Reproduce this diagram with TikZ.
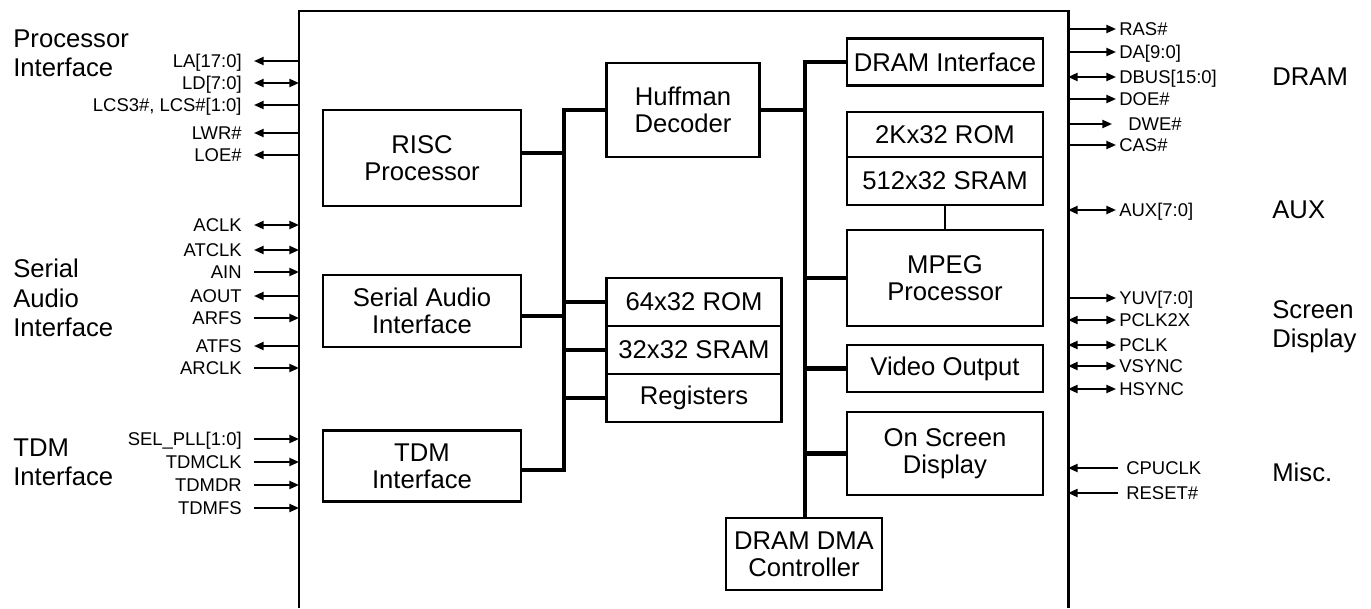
\documentclass[tikz,border=0pt]{standalone}
\usepackage{fontspec}
\setmainfont{Liberation Sans}
\usetikzlibrary{arrows.meta}
\begin{document}
\begin{tikzpicture}
	[x=0.02cm,y=-0.02cm,
	 blk/.style={draw,line width=1.6pt,align=center,inner sep=0pt,font=\fontsize{14.6}{15.3}\selectfont},
	 grp/.style={anchor=west,align=left,inner sep=0pt,font=\fontsize{14.6}{16.7}\selectfont},
	 pinl/.style={anchor=east,inner xsep=0.24cm,inner ysep=0pt,text height=7.5pt,text depth=0pt,font=\fontsize{10.5}{12}\selectfont},
	 pinr/.style={pinl,anchor=west,inner xsep=0.06cm},
	 sig/.style={line width=1.1pt},
	 bus/.style={line width=2.8pt},
	 >={Triangle[length=5.5pt,width=4.6pt]}]
    \useasboundingbox (0,0) rectangle (1371,608);
    \coordinate (cl) at (299,0);
    \coordinate (cr) at (1068,0);
    \coordinate (b1) at (564,0);
    \coordinate (b2) at (805,0);
    % chip outline
    \draw[line width=1.7pt] (299,608) -- (299,11) -- (1068,11) -- (1068,608);
    % blocks
    \node[blk,minimum width=3.96cm,minimum height=1.92cm] (risc) at (422,158) {RISC\\Processor};
    \node[blk,minimum width=3.96cm,minimum height=1.44cm] (sai) at (422,311) {Serial Audio\\Interface};
    \node[blk,minimum width=3.96cm,minimum height=1.42cm] (tdm) at (422,466) {TDM\\Interface};
    \node[blk,minimum width=3.06cm,minimum height=1.88cm] (huff) at (683,110) {Huffman\\Decoder};
    \node[blk,minimum width=3.5cm,minimum height=0.96cm] (rom64) at (694,302) {64x32 ROM};
    \node[blk,minimum width=3.5cm,minimum height=0.96cm] (sram32) at (694,350) {32x32 SRAM};
    \node[blk,minimum width=3.5cm,minimum height=0.96cm] (regs) at (694,398) {Registers};
    \node[blk,minimum width=3.92cm,minimum height=0.94cm] (dramif) at (945,62) {DRAM Interface};
    \node[blk,minimum width=3.92cm,minimum height=0.9cm] (rom2k) at (945,134.5) {2Kx32 ROM};
    \node[blk,minimum width=3.92cm,minimum height=0.96cm] (sram512) at (945,181) {512x32 SRAM};
    \node[blk,minimum width=3.92cm,minimum height=1.92cm] (mpeg) at (945,278) {MPEG\\Processor};
    \node[blk,minimum width=3.92cm,minimum height=0.94cm] (video) at (945,368.5) {Video Output};
    \node[blk,minimum width=3.92cm,minimum height=1.66cm] (osd) at (945,453.5) {On Screen\\Display};
    \node[blk,minimum width=3.12cm,minimum height=1.44cm] (dma) at (804,554) {DRAM DMA\\Controller};
    % buses
    \draw[bus] (huff.west) -- (huff.west -| b1) -- ([yshift=-0.08cm]tdm.east -| b1) -- ([yshift=-0.08cm]tdm.east);
    \draw[bus] ([yshift=0.1cm]risc.east) -- ([yshift=0.1cm]risc.east -| b1);
    \draw[bus] ([yshift=-0.1cm]sai.east) -- ([yshift=-0.1cm]sai.east -| b1);
    \draw[bus] (b1 |- rom64) -- (rom64);
    \draw[bus] (b1 |- sram32) -- (sram32);
    \draw[bus] (b1 |- regs) -- (regs);
    \draw[bus] (dramif.west) -- (dramif.west -| b2) -- (b2 |- dma.north);
    \draw[bus] (huff) -- (huff -| b2);
    \draw[bus] (b2 |- mpeg) -- (mpeg);
    \draw[bus] (b2 |- video) -- (video);
    \draw[bus] (b2 |- osd) -- (osd);
    \draw[line width=1.6pt] (sram512) -- (mpeg);
    % group labels
    \node[grp] (gproc) at (13,53) {Processor\\Interface};
    \node[grp] (gaudio) at (13,298) {Serial\\Audio\\Interface};
    \node[grp] (gtdm) at (13,462) {TDM\\Interface};
    \node[grp] (gdram) at (1272,77) {DRAM};
    \node[grp] (gaux) at (1272,210) {AUX};
    \node[grp] (gscreen) at (1272,327) {Screen\\Display};
    \node[grp] (gmisc) at (1272,472) {Misc.};
    % processor interface pins
    \node[pinl] (la) at (254,61) {LA[17:0]};
    \node[pinl] (ld) at (254,83) {LD[7:0]};
    \node[pinl] (lcs) at (254,105) {LCS3\#, LCS\#[1:0]};
    \node[pinl] (lwr) at (254,133) {LWR\#};
    \node[pinl] (loe) at (254,155) {LOE\#};
    \draw[sig,<-] (la) -- (la -| cl);
    \draw[sig,<->] (ld) -- (ld -| cl);
    \draw[sig,<-] (lcs) -- (lcs -| cl);
    \draw[sig,<-] (lwr) -- (lwr -| cl);
    \draw[sig,<-] (loe) -- (loe -| cl);
    % serial audio pins
    \node[pinl] (aclk) at (254,225) {ACLK};
    \node[pinl] (atclk) at (254,250) {ATCLK};
    \node[pinl] (ain) at (254,272) {AIN};
    \node[pinl] (aout) at (254,296) {AOUT};
    \node[pinl] (arfs) at (254,318) {ARFS};
    \node[pinl] (atfs) at (254,346) {ATFS};
    \node[pinl] (arclk) at (254,368) {ARCLK};
    \draw[sig,<->] (aclk) -- (aclk -| cl);
    \draw[sig,<->] (atclk) -- (atclk -| cl);
    \draw[sig,->] (ain) -- (ain -| cl);
    \draw[sig,<-] (aout) -- (aout -| cl);
    \draw[sig,->] (arfs) -- (arfs -| cl);
    \draw[sig,<-] (atfs) -- (atfs -| cl);
    \draw[sig,->] (arclk) -- (arclk -| cl);
    % tdm pins
    \node[pinl] (selpll) at (254,439) {SEL\_PLL[1:0]};
    \node[pinl] (tdmclk) at (254,462) {TDMCLK};
    \node[pinl] (tdmdr) at (254,485) {TDMDR};
    \node[pinl] (tdmfs) at (254,508) {TDMFS};
    \draw[sig,->] (selpll) -- (selpll -| cl);
    \draw[sig,->] (tdmclk) -- (tdmclk -| cl);
    \draw[sig,->] (tdmdr) -- (tdmdr -| cl);
    \draw[sig,->] (tdmfs) -- (tdmfs -| cl);
    % dram and aux pins
    \node[pinr] (ras) at (1116,29) {RAS\#};
    \node[pinr] (da) at (1116,52) {DA[9:0]};
    \node[pinr] (dbus) at (1116,77) {DBUS[15:0]};
    \node[pinr] (doe) at (1116,99) {DOE\#};
    \node[pinr,inner xsep=0.32cm] (dwe) at (1112,124) {DWE\#};
    \node[pinr] (cas) at (1116,145) {CAS\#};
    \node[pinr] (aux) at (1116,210) {AUX[7:0]};
    \draw[sig,->] (ras -| cr) -- (ras);
    \draw[sig,->] (da -| cr) -- (da);
    \draw[sig,<->] (dbus -| cr) -- (dbus);
    \draw[sig,->] (doe -| cr) -- (doe);
    \draw[sig,->] (dwe -| cr) -- (dwe);
    \draw[sig,->] (cas -| cr) -- (cas);
    \draw[sig,<->] (aux -| cr) -- (aux);
    % display and misc pins
    \node[pinr] (yuv) at (1116,298) {YUV[7:0]};
    \node[pinr] (pclkx) at (1116,320) {PCLK2X};
    \node[pinr] (pclk) at (1116,345) {PCLK};
    \node[pinr] (vsync) at (1116,366) {VSYNC};
    \node[pinr] (hsync) at (1116,389) {HSYNC};
    \node[pinr,inner xsep=0.16cm] (cpuclk) at (1118,468) {CPUCLK};
    \node[pinr,inner xsep=0.16cm] (reset) at (1118,493) {RESET\#};
    \draw[sig,->] (yuv -| cr) -- (yuv);
    \draw[sig,<->] (pclkx -| cr) -- (pclkx);
    \draw[sig,<->] (pclk -| cr) -- (pclk);
    \draw[sig,<->] (vsync -| cr) -- (vsync);
    \draw[sig,<->] (hsync -| cr) -- (hsync);
    \draw[sig,<-] (cpuclk -| cr) -- (cpuclk);
    \draw[sig,<-] (reset -| cr) -- (reset);
\end{tikzpicture}
\end{document}
